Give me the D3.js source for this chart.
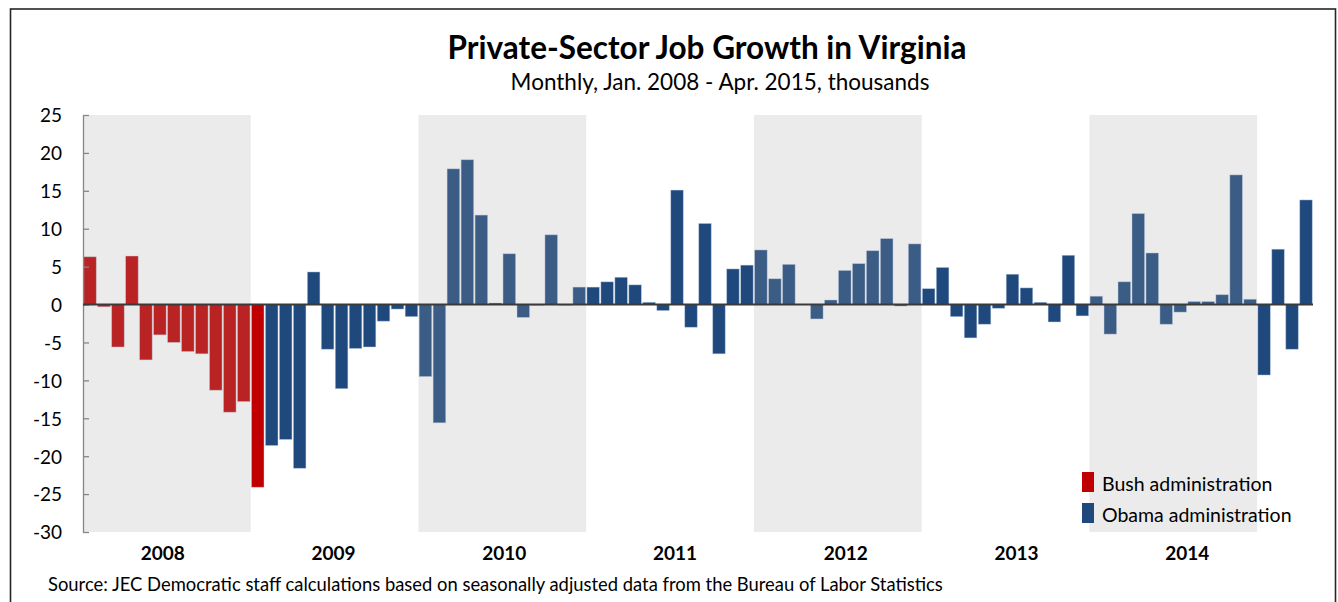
<!DOCTYPE html>
<html>
<head>
<meta charset="utf-8">
<script src="https://cdn.jsdelivr.net/npm/d3@7"></script>
<style>
  body { margin: 0; background: #fff; }
  text { font-family: Lato, "Open Sans", sans-serif; fill: #000; }
</style>
</head>
<body>
<div id="chart"></div>
<script>
// data: monthly private-sector job change, Jan 2008 - Apr 2015 (thousands)
const years = ["2008", "2009", "2010", "2011", "2012", "2013", "2014"];
const shadedYears = ["2008", "2010", "2012", "2014"];
const yTicks = [25, 20, 15, 10, 5, 0, -5, -10, -15, -20, -25, -30];
const bushMonths = 13; // Jan 2008 - Jan 2009
const jobGrowth = [
  6.3, -0.3, -5.6, 6.4, -7.3, -4.0, -5.0, -6.2, -6.5, -11.3, -14.2, -12.8,
  -24.1, -18.6, -17.8, -21.6, 4.3, -5.9, -11.1, -5.8, -5.6, -2.2, -0.6, -1.6,
  -9.5, -15.6, 17.9, 19.1, 11.8, 0.2, 6.7, -1.7, -0.1, 9.2, -0.1, 2.3,
  2.3, 3.0, 3.6, 2.6, 0.3, -0.8, 15.1, -3.0, 10.7, -6.5, 4.7, 5.2,
  7.2, 3.4, 5.3, 0.0, -1.9, 0.6, 4.5, 5.4, 7.1, 8.7, -0.2, 8.0,
  2.1, 4.9, -1.6, -4.4, -2.6, -0.5, 4.0, 2.2, 0.3, -2.3, 6.5, -1.5,
  1.1, -3.9, 3.0, 12.0, 6.8, -2.6, -1.0, 0.4, 0.4, 1.3, 17.1, 0.7,
  -9.3, 7.3, -5.9, 13.8
];
const legendItems = ["Bush administration", "Obama administration"];

const W = 1338, H = 602;
const plot = { left: 83, right: 1313, top: 115, bottom: 532 };
const bushColor = "#c00000", obamaColor = "#1f497d";

const months = jobGrowth.map((v, i) => i);

const svg = d3.select("#chart").append("svg")
  .attr("width", W)
  .attr("height", H);

// khung ngoài
svg.append("rect")
  .attr("x", 10.5).attr("y", 9)
  .attr("width", 1325).attr("height", 620)
  .attr("fill", "none")
  .attr("stroke", "#262626")
  .attr("stroke-width", 1.6);

// scales
const xPos = d3.scaleLinear().domain([0, jobGrowth.length]).range([plot.left, plot.right]);
const x = d3.scaleBand().domain(months).range([plot.left, plot.right])
  .paddingInner(0.1).paddingOuter(0.05);
const y = d3.scaleLinear().domain([-30, 25]).range([plot.bottom, plot.top]);

// bars
svg.append("g").selectAll("rect")
  .data(jobGrowth)
  .enter()
  .append("rect")
  .attr("x", (d, i) => x(i))
  .attr("width", x.bandwidth())
  .attr("y", d => y(Math.max(0, d)))
  .attr("height", d => Math.abs(y(d) - y(0)))
  .attr("fill", (d, i) => i < bushMonths ? bushColor : obamaColor)
  .attr("stroke", "rgba(200,215,235,0.55)")
  .attr("stroke-width", 0.8);

// shaded year bands (drawn over bars, semi-transparent)
svg.append("g").selectAll("rect")
  .data(shadedYears)
  .enter()
  .append("rect")
  .attr("x", d => xPos(years.indexOf(d) * 12))
  .attr("width", d => xPos(12) - xPos(0))
  .attr("y", plot.top)
  .attr("height", plot.bottom - plot.top)
  .attr("fill", "rgb(161,161,161)")
  .attr("fill-opacity", 0.214);

// y axis
const yAxis = svg.append("g")
  .attr("transform", `translate(${plot.left},0)`)
  .call(d3.axisLeft(y).tickValues(yTicks).tickSizeInner(-6).tickSizeOuter(0).tickPadding(21)
    .tickFormat(d => String(d)));
yAxis.selectAll("path, line").attr("stroke", "#868686").attr("stroke-width", 1.3);
yAxis.selectAll("text")
  .style("font-size", "19px")
  .attr("fill", "#000")
  .attr("dy", "0.36em");

// zero line
svg.append("line")
  .attr("x1", plot.left).attr("x2", plot.right)
  .attr("y1", y(0)).attr("y2", y(0))
  .attr("stroke", "#3a3a3a")
  .attr("stroke-width", 2);

// year labels
svg.append("g").selectAll("text")
  .data(years)
  .enter()
  .append("text")
  .attr("x", (d, i) => (xPos(i * 12) + xPos(i * 12 + 12)) / 2 + 3 * i - 4)
  .attr("y", 560)
  .attr("text-anchor", "middle")
  .style("font-size", "19px")
  .style("font-weight", "bold")
  .text(d => d);

// title
svg.append("text")
  .attr("x", 707).attr("y", 59)
  .attr("text-anchor", "middle")
  .style("font-size", "31.5px")
  .style("font-weight", "bold")
  .text("Private-Sector Job Growth in Virginia");

svg.append("text")
  .attr("x", 720).attr("y", 90)
  .attr("text-anchor", "middle")
  .style("font-size", "22.5px")
  .text("Monthly, Jan. 2008 - Apr. 2015, thousands");

// legend
const legend = svg.append("g").selectAll("g")
  .data(legendItems)
  .enter()
  .append("g")
  .attr("transform", (d, i) => `translate(1082, ${472 + i * 31})`);

legend.append("rect")
  .attr("width", 12).attr("height", 20)
  .attr("fill", (d, i) => i === 0 ? bushColor : obamaColor);

legend.append("text")
  .attr("x", 20).attr("y", 19)
  .style("font-size", "19.5px")
  .text(d => d);

// source
svg.append("text")
  .attr("x", 48).attr("y", 591)
  .style("font-size", "18.4px")
  .text("Source: JEC Democratic staff calculations based on seasonally adjusted data from the Bureau of Labor Statistics");
</script>
</body>
</html>
